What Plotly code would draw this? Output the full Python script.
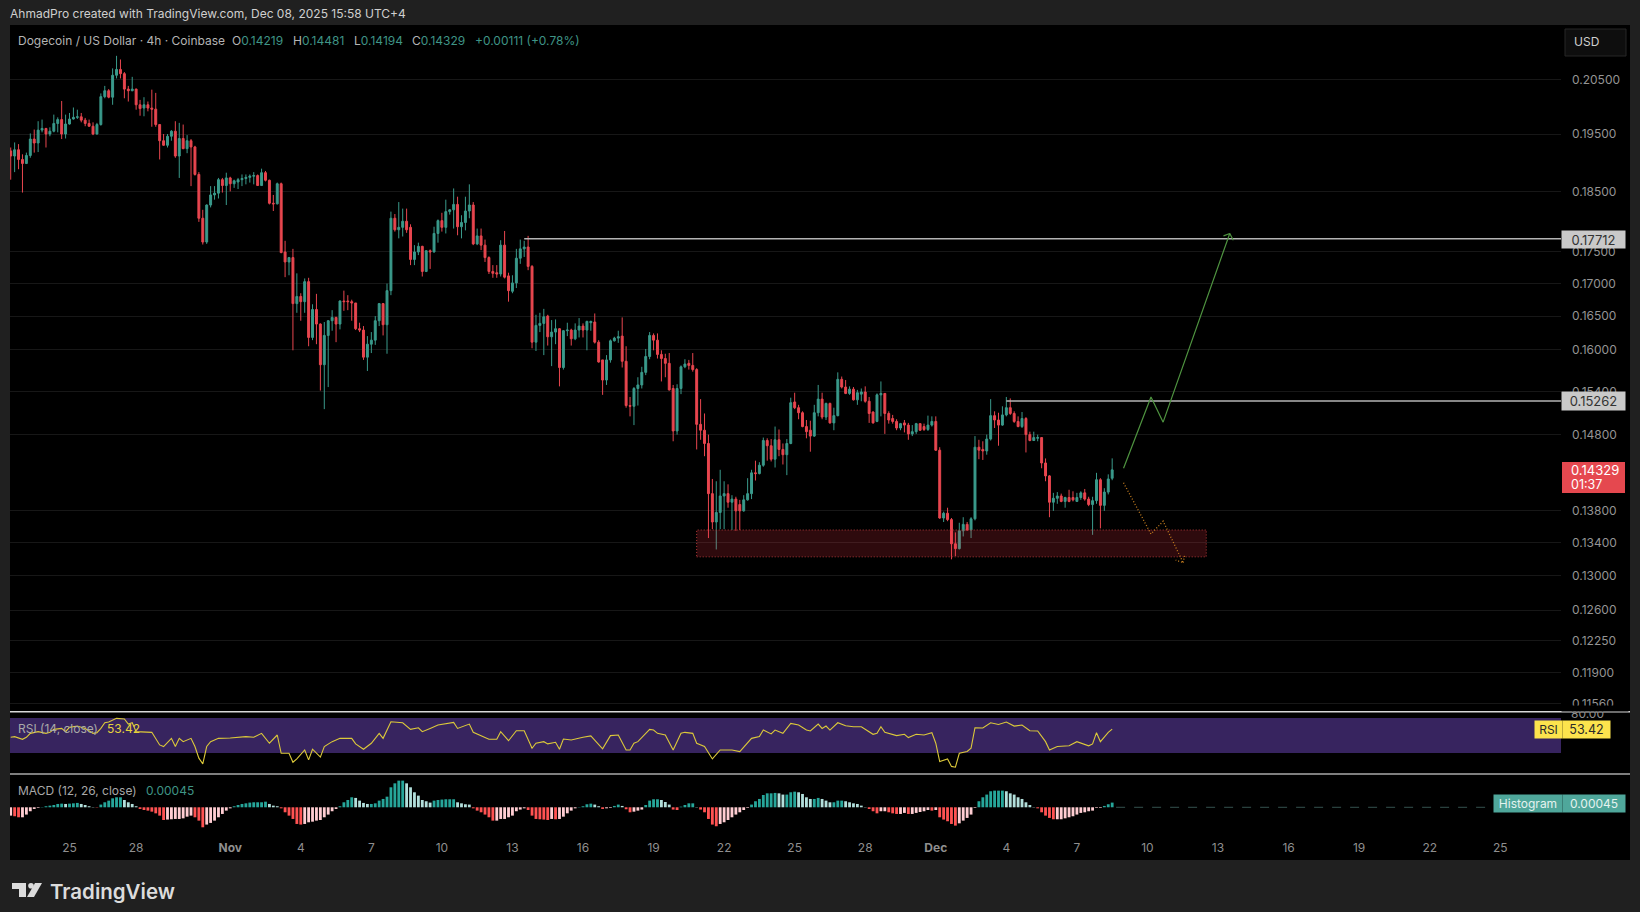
import plotly.graph_objects as go

WIDTH = 1640
HEIGHT = 912

# 4h candles
opens = [
    .1920, .1911, .1922, .1905, .1898, .1912, .1941, .1934, .1957, .1960,
    .1950, .1955, .1969, .1976, .1950, .1968, .1977, .1980, .1981, .1975,
    .1969, .1964, .1950, .1967, .2018, .2029, .2017, .2058, .2069, .2061,
    .2032, .2029, .2032, .2003, .1997, .2003, .1997, .1995, .1967, .1938,
    .1930, .1946, .1955, .1911, .1942, .1924, .1938, .1927, .1879, .1805,
    .1766, .1827, .1844, .1847, .1870, .1860, .1873, .1863, .1866, .1870,
    .1872, .1874, .1876, .1877, .1860, .1882, .1869, .1830, .1829, .1863,
    .1750, .1734, .1741, .1669, .1680, .1672, .1703, .1618, .1660, .1638,
    .1578, .1621, .1643, .1648, .1638, .1673, .1673, .1672, .1670, .1631,
    .1629, .1589, .1608, .1614, .1643, .1669, .1637, .1689, .1805, .1786,
    .1790, .1800, .1790, .1738, .1750, .1759, .1719, .1752, .1750, .1780,
    .1801, .1790, .1816, .1819, .1828, .1791, .1798, .1817, .1827, .1763,
    .1776, .1761, .1741, .1719, .1717, .1715, .1761, .1712, .1688, .1701,
    .1740, .1755, .1758, .1727, .1611, .1636, .1639, .1650, .1619, .1626,
    .1631, .1574, .1628, .1629, .1616, .1629, .1635, .1629, .1640, .1641,
    .1611, .1585, .1556, .1585, .1613, .1617, .1620, .1583, .1520, .1519,
    .1544, .1549, .1567, .1590, .1621, .1614, .1593, .1587, .1580, .1544,
    .1485, .1544, .1575, .1580, .1577, .1571, .1494, .1486, .1468, .1402,
    .1366, .1378, .1399, .1402, .1391, .1395, .1388, .1380, .1394, .1402,
    .1429, .1428, .1439, .1472, .1465, .1447, .1473, .1460, .1453, .1468,
    .1525, .1517, .1510, .1491, .1486, .1478, .1510, .1529, .1504, .1523,
    .1496, .1506, .1557, .1546, .1537, .1543, .1528, .1536, .1539, .1526,
    .1511, .1498, .1535, .1537, .1509, .1502, .1498, .1489, .1496, .1493,
    .1481, .1484, .1495, .1491, .1487, .1493, .1498, .1459, .1371, .1377,
    .1369, .1339, .1333, .1355, .1363, .1356, .1370, .1463, .1460, .1458,
    .1474, .1506, .1500, .1493, .1507, .1517, .1509, .1498, .1491, .1502,
    .1480, .1472, .1475, .1476, .1442, .1425, .1391, .1396, .1399, .1392,
    .1397, .1397, .1392, .1397, .1403, .1395, .1388, .1393, .1420, .1387,
    .1404, .14219,
]
closes = [
    .1911, .1922, .1905, .1898, .1912, .1941, .1934, .1957, .1960, .1950,
    .1955, .1969, .1976, .1950, .1968, .1977, .1980, .1981, .1975, .1969,
    .1964, .1950, .1967, .2018, .2029, .2017, .2058, .2069, .2061, .2032,
    .2029, .2032, .2003, .1996, .2003, .1997, .1995, .1967, .1938, .1930,
    .1946, .1955, .1911, .1942, .1924, .1938, .1927, .1879, .1805, .1766,
    .1827, .1844, .1847, .1870, .1860, .1873, .1863, .1868, .1870, .1872,
    .1874, .1876, .1877, .1860, .1882, .1869, .1830, .1829, .1863, .1749,
    .1734, .1741, .1669, .1680, .1672, .1703, .1618, .1660, .1638, .1578,
    .1621, .1643, .1648, .1638, .1673, .1672, .1672, .1670, .1631, .1629,
    .1589, .1608, .1614, .1643, .1669, .1637, .1689, .1805, .1786, .1790,
    .1800, .1786, .1738, .1750, .1759, .1719, .1752, .1750, .1780, .1801,
    .1790, .1816, .1819, .1828, .1791, .1798, .1817, .1827, .1763, .1776,
    .1761, .1741, .1719, .1716, .1715, .1761, .1710, .1689, .1701, .1740,
    .1755, .1758, .1727, .1611, .1636, .1639, .1649, .1619, .1626, .1631,
    .1574, .1628, .1629, .1616, .1629, .1635, .1629, .1642, .1642, .1611,
    .1582, .1556, .1585, .1613, .1617, .1619, .1583, .1520, .1519, .1544,
    .1549, .1567, .1590, .1621, .1614, .1593, .1587, .1580, .1542, .1485,
    .1544, .1575, .1579, .1577, .1571, .1494, .1486, .1468, .1402, .1366,
    .1378, .1399, .1402, .1391, .1395, .1380, .1380, .1394, .1402, .1429,
    .1428, .1439, .1472, .1465, .1447, .1473, .1460, .1453, .1468, .1524,
    .1517, .1510, .1491, .1484, .1478, .1510, .1529, .1504, .1523, .1496,
    .1506, .1557, .1546, .1537, .1543, .1528, .1538, .1539, .1526, .1509,
    .1496, .1535, .1537, .1509, .1500, .1498, .1489, .1495, .1493, .1481,
    .1484, .1495, .1486, .1487, .1493, .1498, .1459, .1371, .1377, .1369,
    .1339, .1333, .1355, .1363, .1356, .1370, .1463, .1459, .1458, .1474,
    .1506, .1500, .1493, .1507, .1517, .1509, .1498, .1491, .1502, .1480,
    .1472, .1476, .1476, .1442, .1425, .1391, .1396, .1399, .1392, .1397,
    .1392, .1394, .1397, .1403, .1395, .1388, .1393, .1420, .1387, .1404,
    .1421, .14329,
]
highs = [
    .1926, .1935, .1932, .1914, .1917, .1951, .1958, .1973, .1976, .1961,
    .1962, .1985, .1980, .2010, .1985, .1988, .1998, .1994, .1988, .1979,
    .1976, .1971, .1970, .2024, .2038, .2032, .2071, .2095, .2088, .2064,
    .2038, .2055, .2033, .2012, .2017, .2009, .2031, .2025, .1968, .1950,
    .1950, .1957, .1973, .1970, .1967, .1948, .1941, .1929, .1883, .1819,
    .1828, .1859, .1859, .1873, .1873, .1882, .1875, .1870, .1873, .1879,
    .1879, .1879, .1883, .1879, .1889, .1885, .1870, .1844, .1865, .1865,
    .1768, .1742, .1755, .1716, .1685, .1708, .1709, .1668, .1684, .1639,
    .1641, .1644, .1659, .1649, .1674, .1689, .1682, .1675, .1670, .1640,
    .1635, .1620, .1626, .1650, .1670, .1670, .1700, .1816, .1812, .1832,
    .1821, .1821, .1795, .1761, .1765, .1760, .1753, .1754, .1791, .1803,
    .1814, .1836, .1820, .1855, .1841, .1810, .1841, .1862, .1832, .1788,
    .1788, .1770, .1743, .1729, .1729, .1769, .1784, .1717, .1713, .1755,
    .1770, .1768, .1776, .1729, .1652, .1655, .1661, .1652, .1644, .1645,
    .1632, .1629, .1640, .1631, .1639, .1647, .1639, .1643, .1643, .1654,
    .1614, .1585, .1592, .1615, .1619, .1628, .1648, .1605, .1532, .1546,
    .1560, .1575, .1601, .1626, .1624, .1624, .1599, .1594, .1595, .1549,
    .1550, .1577, .1586, .1585, .1595, .1573, .1529, .1509, .1480, .1421,
    .1418, .1433, .1418, .1414, .1400, .1398, .1394, .1400, .1422, .1433,
    .1445, .1443, .1476, .1475, .1474, .1491, .1487, .1468, .1474, .1531,
    .1538, .1521, .1512, .1500, .1499, .1521, .1549, .1538, .1524, .1524,
    .1517, .1567, .1561, .1556, .1547, .1546, .1542, .1544, .1547, .1532,
    .1512, .1537, .1554, .1537, .1512, .1507, .1501, .1496, .1500, .1496,
    .1493, .1496, .1495, .1495, .1506, .1505, .1505, .1463, .1379, .1384,
    .1371, .1353, .1365, .1372, .1366, .1372, .1478, .1473, .1471, .1480,
    .1529, .1512, .1510, .1519, .1532, .1530, .1512, .1505, .1511, .1504,
    .1484, .1484, .1480, .1476, .1448, .1426, .1403, .1404, .1402, .1398,
    .1407, .1405, .1403, .1405, .1408, .1398, .1398, .1429, .1422, .1409,
    .1427, .14481,
]
lows = [
    .1870, .1883, .1888, .1848, .1897, .1908, .1917, .1918, .1953, .1926,
    .1946, .1953, .1953, .1941, .1942, .1967, .1976, .1977, .1971, .1964,
    .1963, .1948, .1949, .1965, .2015, .2015, .2003, .2052, .2052, .2015,
    .2009, .2028, .1994, .1983, .1982, .1991, .1963, .1963, .1905, .1929,
    .1926, .1938, .1908, .1873, .1923, .1916, .1859, .1877, .1799, .1762,
    .1763, .1823, .1836, .1838, .1848, .1827, .1850, .1856, .1854, .1859,
    .1862, .1865, .1862, .1860, .1860, .1867, .1828, .1817, .1828, .1748,
    .1710, .1713, .1599, .1655, .1643, .1655, .1605, .1614, .1608, .1541,
    .1515, .1546, .1628, .1611, .1630, .1658, .1659, .1643, .1629, .1626,
    .1585, .1569, .1595, .1607, .1635, .1621, .1594, .1682, .1783, .1772,
    .1775, .1781, .1729, .1729, .1745, .1711, .1718, .1723, .1749, .1765,
    .1783, .1780, .1811, .1788, .1777, .1772, .1785, .1805, .1761, .1761,
    .1753, .1734, .1715, .1709, .1709, .1711, .1708, .1672, .1685, .1693,
    .1731, .1742, .1721, .1602, .1598, .1626, .1592, .1606, .1576, .1608,
    .1547, .1571, .1620, .1606, .1614, .1618, .1618, .1599, .1628, .1609,
    .1581, .1535, .1549, .1581, .1612, .1610, .1574, .1517, .1505, .1493,
    .1520, .1544, .1563, .1586, .1599, .1587, .1554, .1560, .1541, .1471,
    .1480, .1536, .1573, .1571, .1568, .1460, .1473, .1451, .1346, .1357,
    .1332, .1357, .1357, .1384, .1356, .1355, .1356, .1379, .1393, .1395,
    .1419, .1427, .1437, .1445, .1444, .1436, .1451, .1440, .1426, .1467,
    .1515, .1501, .1490, .1475, .1457, .1477, .1505, .1501, .1500, .1495,
    .1486, .1505, .1544, .1536, .1535, .1527, .1521, .1526, .1524, .1496,
    .1495, .1497, .1505, .1481, .1495, .1495, .1486, .1486, .1483, .1473,
    .1478, .1481, .1485, .1485, .1485, .1491, .1458, .1370, .1366, .1367,
    .1320, .1324, .1332, .1348, .1355, .1346, .1368, .1447, .1446, .1453,
    .1472, .1489, .1465, .1492, .1505, .1507, .1496, .1490, .1489, .1456,
    .1471, .1472, .1471, .1435, .1418, .1372, .1380, .1389, .1391, .1384,
    .1391, .1392, .1392, .1394, .1393, .1386, .1350, .1389, .1358, .1380,
    .1401, .14194,
]

# MACD histogram, in units of 0.00001
macd_hist = [
    -80, -86, -96, -96, -70, -38, -16, -6, 3, 10, 16, 22, 32, 35, 32, 35, 38, 42, 32, 22,
    10, 3, -3, 26, 48, 64, 86, 96, 96, 70, 48, 32, 10, -16, -26, -32, -42, -58, -80, -122,
    -118, -115, -112, -112, -106, -90, -80, -96, -128, -192, -166, -150, -128, -96, -64, -32, -10, 10, 22, 32,
    38, 45, 48, 48, 48, 54, 32, 16, 10, -10, -48, -80, -112, -160, -166, -160, -144, -138, -128, -122,
    -96, -70, -38, -16, 10, 48, 70, 96, 90, 64, 42, 32, 32, 38, 64, 80, 102, 192, 230, 256,
    256, 230, 192, 144, 112, 70, 58, 45, 64, 70, 74, 77, 77, 77, 48, 38, 29, 26, -10, -32,
    -48, -70, -96, -128, -128, -112, -112, -96, -80, -38, -22, -10, -26, -80, -112, -115, -118, -122,
    -112, -115, -112, -90, -58, -32, -10, 3, 10, 29, 35, 26, 10, -16, -10, -6, 13, 26, 13, -19,
    -48, -42, -32, -22, 22, 64, 77, 77, 70, 51, 26, -22, -26, 6, 22, 38, 38, 3, -22, -48,
    -112, -166, -182, -160, -144, -122, -96, -70, -48, -26, -6, 26, 58, 80, 118, 134, 134, 138, 134, 122,
    122, 144, 150, 144, 128, 96, 80, 80, 90, 80, 64, 48, 48, 64, 64, 58, 48, 38, 32, 16,
    3, -16, -38, -58, -38, -38, -48, -58, -64, -64, -54, -64, -64, -54, -45, -38, -26, -32, -26, -96,
    -118, -134, -160, -176, -154, -128, -102, -70, -6, 58, 96, 122, 154, 160, 160, 160, 154, 134, 122, 96,
    80, 48, 22, 3, -10, -48, -80, -102, -115, -115, -115, -106, -96, -86, -70, -54, -48, -38, -32, -6,
    -6, 13, 29, 45,
]

# RSI turning points: bar number and value
rsi_bars = [
    0, 1, 3, 4, 5, 7, 9, 10, 11, 13, 14, 15, 17, 19, 21, 22, 23, 24, 25, 26, 27, 29, 30, 31, 32, 36,
    38, 39, 41, 42, 43, 44, 46, 47, 48, 49, 50, 51, 53, 56, 60, 62, 64, 66, 68, 69, 71, 72, 73, 75,
    76, 77, 79, 80, 82, 84, 87, 88, 90, 92, 94, 95, 97, 100, 102, 104, 105, 107, 109, 113, 114, 117,
    118, 122, 124, 125, 127, 129, 131, 133, 134, 136, 137, 139, 140, 141, 143, 146, 148, 151, 153, 155,
    157, 158, 159, 160, 163, 164, 165, 167, 169, 171, 172, 174, 175, 177, 179, 181, 184, 186, 188, 189,
    191, 192, 194, 195, 197, 199, 201, 203, 204, 206, 207, 208, 209, 211, 213, 215, 217, 220, 221, 222,
    223, 226, 228, 229, 231, 233, 235, 236, 237, 239, 240, 241, 242, 244, 245, 246, 248, 250, 252, 254,
    256, 258, 260, 262, 264, 265, 267, 268, 270, 272, 275, 276, 277, 278, 280, 281,
]
rsi_values = [
    43.9, 44.6, 41.8, 43.9, 48.3, 50.3, 48.3, 49.5, 53.2, 54.4, 50.3, 55.8, 57.6, 54.4, 48.3, 49.1, 54.4, 62.4, 63.5, 66.7, 69.4, 68.3, 60.4, 62.4, 50.3, 49.5,
    36.5, 35.1, 42.8, 35.1, 42.8, 39.5, 42.8, 35.1, 26.5, 23.1, 35.1, 39.5, 42.8, 43.2, 44.6, 43.9, 48.3, 38.0, 46.4, 29.8, 29.8, 24.0, 26.0, 32.3,
    25.4, 32.9, 27.2, 35.1, 39.5, 42.8, 42.8, 37.4, 32.9, 38.0, 48.3, 42.8, 64.0, 62.4, 53.2, 55.3, 50.3, 54.4, 59.0, 63.0, 54.4, 60.4,
    49.5, 41.8, 41.8, 50.3, 40.4, 51.5, 51.5, 33.7, 38.0, 39.5, 37.4, 38.9, 32.9, 42.1, 41.1, 43.9, 45.4, 33.2, 45.7, 46.4,
    32.3, 32.3, 38.0, 39.5, 53.2, 52.3, 48.3, 46.4, 32.3, 48.3, 49.5, 48.3, 38.0, 35.1, 26.0, 32.3, 32.3, 31.1, 38.0, 42.8,
    44.6, 52.3, 47.6, 52.3, 48.3, 61.4, 59.0, 52.3, 51.1, 60.4, 54.4, 57.6, 52.3, 62.4, 58.0, 56.7, 56.7, 47.2, 48.3, 56.7,
    49.5, 45.7, 47.2, 43.6, 47.2, 46.4, 49.1, 38.0, 24.4, 26.0, 21.7, 21.3, 29.8, 31.1, 33.7, 55.3, 54.9, 62.4, 59.9, 63.5,
    57.6, 59.0, 51.5, 51.1, 39.5, 32.3, 35.1, 35.1, 35.7, 39.5, 35.7, 37.4, 49.1, 39.5, 49.5, 53.42,
]

price_ticks = [0.205, 0.195, 0.185, 0.175, 0.17, 0.165, 0.16, 0.154, 0.148, 0.138, 0.134, 0.13, 0.126, 0.1225, 0.119, 0.1156]
time_tick_bars = [15, 32, 56, 74, 92, 110, 128, 146, 164, 182, 200, 218, 236, 254, 272, 290, 308, 326, 344, 362, 380]
time_tick_labels = ["25", "28", "<b>Nov</b>", "4", "7", "10", "13", "16", "19", "22", "25", "28", "<b>Dec</b>", "4", "7", "10", "13", "16", "19", "22", "25"]

# Drawings on the chart
level_prices = [0.17712, 0.15262]
level_start_bars = [131, 254]
zone_bars = [175, 305]
zone_prices = [0.1323, 0.1356]
up_path_bars = [283.9, 290.9, 294, 311, 309.4, None, 311, 311.9]
up_path_prices = [0.1435, 0.1532, 0.1497, 0.1780, 0.1776, None, 0.1780, 0.1769]
down_path_bars = [283.9, 290.9, 294, 299.1, 297.2, None, 299.1, 299.5]
down_path_prices = [0.1416, 0.1351, 0.1367, 0.1316, 0.1319, None, 0.1316, 0.1325]

BAR_RANGE = [-0.18, 395.5]
BG = "#202020"
UP = "#3a9a8b"
DOWN = "#e8464f"
FONT = "Inter"


def fx(x):
    return x / WIDTH


def fy(y):
    return 1 - y / HEIGHT


def add_text(fig, text, x, y, color="#a8a8a8", size=12, weight=None):
    # annotations carry about 2px of padding on the left
    fig.add_annotation(
        x=fx(x - 2), y=fy(y), xref="paper", yref="paper", text=text, showarrow=False,
        xanchor="left", yanchor="middle", font=dict(family=FONT, size=size, color=color, weight=weight),
    )


def add_tag(fig, text, x0, x1, y0, y1, bg, color, size=12):
    fig.add_annotation(
        x=fx((x0 + x1) / 2), y=fy((y0 + y1) / 2), xref="paper", yref="paper", text=text,
        showarrow=False, xanchor="center", yanchor="middle", width=x1 - x0, height=y1 - y0,
        bgcolor=bg, borderpad=0, font=dict(family=FONT, size=size, color=color),
    )


def add_rect(fig, x0, x1, y0, y1, fill, line="rgba(0,0,0,0)", layer="below"):
    fig.add_shape(
        type="rect", xref="paper", yref="paper", x0=fx(x0), x1=fx(x1), y0=fy(y0), y1=fy(y1),
        fillcolor=fill, line=dict(color=line, width=1), layer=layer,
    )


def add_rule(fig, y, color):
    fig.add_shape(
        type="line", xref="paper", yref="paper", x0=fx(10), x1=fx(1630), y0=fy(y), y1=fy(y),
        line=dict(color=color, width=1.5), layer="above",
    )


def draw_price_pane(fig):
    bars = list(range(len(closes)))
    # Support zone goes under the candles
    fig.add_trace(go.Scatter(
        x=[zone_bars[0], zone_bars[1], zone_bars[1], zone_bars[0], zone_bars[0]],
        y=[zone_prices[0], zone_prices[0], zone_prices[1], zone_prices[1], zone_prices[0]],
        mode="lines", fill="toself", fillcolor="rgba(242,54,69,0.19)",
        line=dict(color="#b53a3a", width=1, dash="1px,2px"), xaxis="x", yaxis="y",
    ))
    for level, start in zip(level_prices, level_start_bars):
        fig.add_trace(go.Scatter(
            x=[start, BAR_RANGE[1]], y=[level, level], mode="lines",
            line=dict(color="#b4b4b4", width=1.5), xaxis="x", yaxis="y",
        ))
    fig.add_trace(go.Candlestick(
        x=bars, open=opens, high=highs, low=lows, close=closes, xaxis="x", yaxis="y",
        increasing=dict(line=dict(color=UP, width=1), fillcolor=UP),
        decreasing=dict(line=dict(color=DOWN, width=1), fillcolor=DOWN),
    ))
    fig.add_trace(go.Scatter(
        x=up_path_bars, y=up_path_prices, mode="lines",
        line=dict(color="#4f9440", width=1.2), xaxis="x", yaxis="y",
    ))
    fig.add_trace(go.Scatter(
        x=down_path_bars, y=down_path_prices, mode="lines",
        line=dict(color="#c87f20", width=1.3, dash="1px,2px"), xaxis="x", yaxis="y",
    ))


def draw_rsi_pane(fig):
    # RSI band 70 / 30
    fig.add_trace(go.Scatter(
        x=[BAR_RANGE[0], BAR_RANGE[1], BAR_RANGE[1], BAR_RANGE[0], BAR_RANGE[0]],
        y=[30, 30, 70, 70, 30], mode="lines", fill="toself", fillcolor="#37245f",
        line=dict(width=0), xaxis="x2", yaxis="y2",
    ))
    fig.add_trace(go.Scatter(
        x=rsi_bars, y=rsi_values, mode="lines",
        line=dict(color="#dcc93a", width=1.1), xaxis="x2", yaxis="y2",
    ))


def draw_macd_pane(fig):
    values = [v * 1e-5 for v in macd_hist]
    colors = []
    for i, v in enumerate(values):
        prev = values[i - 1] if i > 0 else v
        if v >= 0:
            colors.append("#26a69a" if v >= prev else "#b2dfdb")
        else:
            colors.append("#ff5252" if v < prev else "#ffcdd2")
    fig.add_trace(go.Bar(
        x=list(range(len(values))), y=values, width=0.72, marker=dict(color=colors, line=dict(width=0)),
        xaxis="x3", yaxis="y3",
    ))
    fig.add_trace(go.Scatter(
        x=[len(values), 378], y=[0, 0], mode="lines",
        line=dict(color="#35524e", width=1, dash="dash"), xaxis="x3", yaxis="y3",
    ))


def draw_frame(fig):
    add_rect(fig, 10, 1630, 25, 860, "#000000")
    add_rect(fig, 1565, 1626, 29, 56, "#0e0e0e", line="#262626")
    add_rule(fig, 711.7, "#d8d8d8")
    add_rule(fig, 774, "#a8a8a8")

    # TradingView mark
    logo = [
        f"M {fx(12)} {fy(883)} L {fx(26)} {fy(883)} L {fx(26)} {fy(897)} L {fx(19)} {fy(897)} L {fx(19)} {fy(889)} L {fx(12)} {fy(889)} Z",
        f"M {fx(35)} {fy(883)} L {fx(42)} {fy(883)} L {fx(34)} {fy(897)} L {fx(27)} {fy(897)} Z",
    ]
    for path in logo:
        fig.add_shape(type="path", xref="paper", yref="paper", path=path, fillcolor="#dcdcdc", line=dict(width=0))
    fig.add_shape(
        type="circle", xref="paper", yref="paper", x0=fx(28.2), x1=fx(33.8), y0=fy(883), y1=fy(888.6),
        fillcolor="#dcdcdc", line=dict(width=0),
    )


def draw_labels(fig):
    add_text(fig, "AhmadPro created with TradingView.com, Dec 08, 2025 15:58 UTC+4", 10, 14, color="#cfcfcf")
    add_text(fig, "Dogecoin / US Dollar · 4h · Coinbase", 18, 41, color="#b4b4b4")
    green = "#3f9486"
    for x, label, value in [(232, "O", "0.14219"), (293, "H", "0.14481"), (353.5, "L", "0.14194"), (412, "C", "0.14329")]:
        add_text(fig, f'{label}<span style="color:{green}">{value}</span>', x, 41, color="#b4b4b4")
    add_text(fig, "+0.00111 (+0.78%)", 474.5, 41, color=green)
    add_text(fig, "USD", 1574, 42, color="#d0d0d0")

    # Price scale tags
    add_tag(fig, "0.17712", 1562, 1625, 231, 248, "#c9c9c9", "#333333", size=13)
    add_tag(fig, "0.15262", 1562, 1625, 392.5, 410, "#c9c9c9", "#333333", size=13)
    add_rect(fig, 1562, 1625, 462, 493, "#e5484f", layer="above")
    add_text(fig, "0.14329", 1571, 470, color="#ffffff", size=13)
    add_text(fig, "01:37", 1571, 484, color="#ffffff", size=12.5)

    # RSI pane
    add_text(fig, "RSI (14, close)", 18, 728)
    add_text(fig, "53.42", 107, 728, color="#e6d33c")
    add_text(fig, "80.00", 1571, 713.5, color="#8f8f8f")
    add_tag(fig, "", 1562, 1628, 706.5, 711, "#000000", "#000000")
    add_tag(fig, "RSI", 1535, 1562, 721, 738, "#fce34d", "#2a2a2a")
    add_tag(fig, "53.42", 1563, 1610, 721, 738, "#fce34d", "#2a2a2a", size=12.5)

    # MACD pane
    add_text(fig, "MACD (12, 26, close)", 18, 790.5)
    add_text(fig, "0.00045", 145.5, 790.5, color=green)
    add_tag(fig, "Histogram", 1494, 1562, 795, 811.5, "#4fa79b", "#e4f2ef")
    add_tag(fig, "0.00045", 1563, 1625, 795, 811.5, "#4fa79b", "#e4f2ef")

    add_text(fig, "TradingView", 49.5, 891, color="#dcdcdc", size=20.5, weight=600)


def main():
    assert len(opens) == len(closes) == len(highs) == len(lows) == len(macd_hist) == 282
    assert len(rsi_bars) == len(rsi_values)

    fig = go.Figure()
    draw_price_pane(fig)
    draw_rsi_pane(fig)
    draw_macd_pane(fig)
    draw_frame(fig)
    draw_labels(fig)

    hidden_x = dict(
        range=BAR_RANGE, domain=[fx(10), fx(1561)], showgrid=False, zeroline=False,
        showticklabels=False, ticks="", rangeslider=dict(visible=False),
    )
    hidden_y = dict(showgrid=False, zeroline=False, showticklabels=False, ticks="")
    fig.update_layout(
        width=WIDTH, height=HEIGHT, margin=dict(l=0, r=0, t=0, b=0),
        paper_bgcolor=BG, plot_bgcolor="rgba(0,0,0,0)", showlegend=False, hovermode=False,
        font=dict(family=FONT),
        xaxis=dict(hidden_x, anchor="y"),
        yaxis=dict(
            type="log", range=[-0.93986, -0.66653], domain=[fy(711), fy(25)], side="right",
            tickmode="array", tickvals=price_ticks, tickformat=".5f", ticks="", ticklabelstandoff=10,
            tickfont=dict(family=FONT, size=12, color="#949494"),
            showgrid=True, gridcolor="#171717", gridwidth=1, zeroline=False, anchor="x",
        ),
        xaxis2=dict(hidden_x, anchor="y2"),
        yaxis2=dict(hidden_y, type="log", range=[1.2567, 1.9082], domain=[fy(774), fy(712)], anchor="x2"),
        xaxis3=dict(
            hidden_x, anchor="y3", showticklabels=True, tickmode="array", tickvals=time_tick_bars,
            ticktext=time_tick_labels, ticklabelstandoff=4, tickfont=dict(family=FONT, size=12, color="#8f8f8f"),
        ),
        yaxis3=dict(hidden_y, range=[-0.00266, 0.0031], domain=[fy(835), fy(775)], anchor="x3"),
    )
    fig.write_html(
        "out.html",
        config=dict(displayModeBar=False, staticPlot=True),
        post_script="document.body.style.margin='0';document.body.style.background='#202020';",
    )


if __name__ == "__main__":
    main()
